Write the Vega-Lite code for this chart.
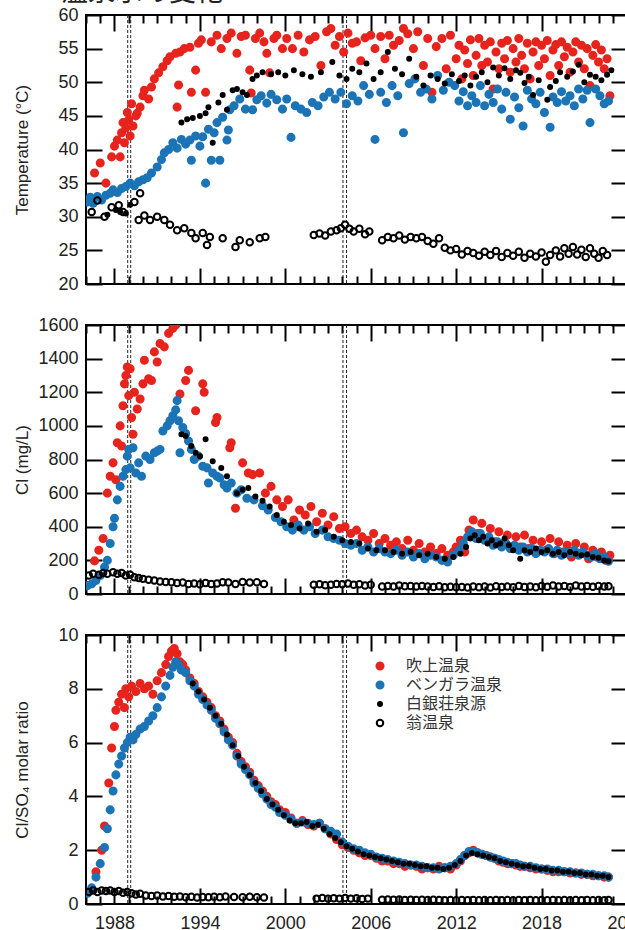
{
"$schema": "https://vega.github.io/schema/vega-lite/v6.json",
"autosize": {"type": "pad"},
"padding": {"left": 12, "top": -21, "right": 0, "bottom": 0},
"title": {"text": "<温泉水の変化>", "font": "Noto Sans CJK JP", "fontSize": 27, "fontWeight": "normal", "color": "#222", "anchor": "start", "frame": "bounds", "dx": 33, "offset": -2},
"bounds": "flush",
"spacing": 41,
"resolve": {"scale": {"fill": "independent", "stroke": "independent", "size": "independent"}},
"config": {"view": {"stroke": "black", "strokeWidth": 2}, "axis": {"grid": false, "domain": false}, "font": "Liberation Sans"},
"datasets": {
"E": [{"t": 1988.93}, {"t": 1989.14}, {"t": 2004.05}, {"t": 2004.3}],
"T": [
{"site":"吹上温泉","t":1986.6,"v":36.5},{"site":"吹上温泉","t":1987.0,"v":38.0},{"site":"吹上温泉","t":1987.4,"v":35.0},{"site":"吹上温泉","t":1987.8,"v":38.9},{"site":"吹上温泉","t":1988.0,"v":40.5},{"site":"吹上温泉","t":1988.2,"v":41.4},{"site":"吹上温泉","t":1988.4,"v":38.9},{"site":"吹上温泉","t":1988.5,"v":42.5},{"site":"吹上温泉","t":1988.6,"v":44.0},{"site":"吹上温泉","t":1988.7,"v":41.0},{"site":"吹上温泉","t":1988.8,"v":43.2},{"site":"吹上温泉","t":1988.9,"v":45.5},{"site":"吹上温泉","t":1989.0,"v":44.4},{"site":"吹上温泉","t":1989.1,"v":42.0},{"site":"吹上温泉","t":1989.2,"v":46.8},{"site":"吹上温泉","t":1989.3,"v":43.5},{"site":"吹上温泉","t":1989.5,"v":45.0},{"site":"吹上温泉","t":1989.6,"v":45.4},{"site":"吹上温泉","t":1989.8,"v":46.3},{"site":"吹上温泉","t":1990.0,"v":48.0},{"site":"吹上温泉","t":1990.1,"v":48.8},{"site":"吹上温泉","t":1990.4,"v":47.5},{"site":"吹上温泉","t":1990.6,"v":49.3},{"site":"吹上温泉","t":1990.8,"v":50.5},{"site":"吹上温泉","t":1991.1,"v":51.4},{"site":"吹上温泉","t":1991.4,"v":52.3},{"site":"吹上温泉","t":1991.7,"v":53.2},{"site":"吹上温泉","t":1991.9,"v":53.8},{"site":"吹上温泉","t":1992.3,"v":54.3},{"site":"吹上温泉","t":1992.4,"v":46.3},{"site":"吹上温泉","t":1992.5,"v":49.6},{"site":"吹上温泉","t":1992.6,"v":54.5},{"site":"吹上温泉","t":1992.9,"v":55.0},{"site":"吹上温泉","t":1993.3,"v":55.2},{"site":"吹上温泉","t":1993.4,"v":48.5},{"site":"吹上温泉","t":1993.7,"v":51.8},{"site":"吹上温泉","t":1993.9,"v":55.8},{"site":"吹上温泉","t":1994.1,"v":56.3},{"site":"吹上温泉","t":1994.4,"v":48.5},{"site":"吹上温泉","t":1994.8,"v":56.0},{"site":"吹上温泉","t":1995.2,"v":57.0},{"site":"吹上温泉","t":1995.5,"v":55.0},{"site":"吹上温泉","t":1995.9,"v":56.5},{"site":"吹上温泉","t":1996.2,"v":57.3},{"site":"吹上温泉","t":1996.6,"v":54.3},{"site":"吹上温泉","t":1996.9,"v":56.8},{"site":"吹上温泉","t":1997.2,"v":57.0},{"site":"吹上温泉","t":1997.5,"v":51.8},{"site":"吹上温泉","t":1997.6,"v":48.4},{"site":"吹上温泉","t":1997.9,"v":56.5},{"site":"吹上温泉","t":1998.2,"v":57.3},{"site":"吹上温泉","t":1998.5,"v":56.0},{"site":"吹上温泉","t":1998.7,"v":54.3},{"site":"吹上温泉","t":1998.9,"v":51.4},{"site":"吹上温泉","t":1999.2,"v":56.5},{"site":"吹上温泉","t":1999.4,"v":57.0},{"site":"吹上温泉","t":1999.8,"v":55.0},{"site":"吹上温泉","t":2000.1,"v":56.5},{"site":"吹上温泉","t":2000.5,"v":55.0},{"site":"吹上温泉","t":2000.9,"v":57.0},{"site":"吹上温泉","t":2001.3,"v":54.5},{"site":"吹上温泉","t":2001.7,"v":56.3},{"site":"吹上温泉","t":2002.1,"v":56.8},{"site":"吹上温泉","t":2002.5,"v":52.5},{"site":"吹上温泉","t":2002.9,"v":57.5},{"site":"吹上温泉","t":2003.2,"v":58.0},{"site":"吹上温泉","t":2003.5,"v":55.5},{"site":"吹上温泉","t":2003.8,"v":56.8},{"site":"吹上温泉","t":2004.1,"v":54.5},{"site":"吹上温泉","t":2004.4,"v":57.3},{"site":"吹上温泉","t":2004.7,"v":55.8},{"site":"吹上温泉","t":2005.0,"v":56.0},{"site":"吹上温泉","t":2005.3,"v":53.2},{"site":"吹上温泉","t":2005.6,"v":56.6},{"site":"吹上温泉","t":2006.0,"v":57.0},{"site":"吹上温泉","t":2006.3,"v":55.0},{"site":"吹上温泉","t":2006.7,"v":56.8},{"site":"吹上温泉","t":2007.0,"v":53.5},{"site":"吹上温泉","t":2007.3,"v":57.0},{"site":"吹上温泉","t":2007.6,"v":55.5},{"site":"吹上温泉","t":2008.0,"v":56.2},{"site":"吹上温泉","t":2008.3,"v":58.0},{"site":"吹上温泉","t":2008.6,"v":57.2},{"site":"吹上温泉","t":2009.0,"v":55.0},{"site":"吹上温泉","t":2009.3,"v":57.5},{"site":"吹上温泉","t":2009.7,"v":52.5},{"site":"吹上温泉","t":2010.0,"v":56.5},{"site":"吹上温泉","t":2010.3,"v":48.5},{"site":"吹上温泉","t":2010.6,"v":55.3},{"site":"吹上温泉","t":2011.0,"v":56.5},{"site":"吹上温泉","t":2011.3,"v":52.0},{"site":"吹上温泉","t":2011.6,"v":57.0},{"site":"吹上温泉","t":2012.0,"v":53.5},{"site":"吹上温泉","t":2012.2,"v":55.5},{"site":"吹上温泉","t":2012.4,"v":50.5},{"site":"吹上温泉","t":2012.6,"v":54.8},{"site":"吹上温泉","t":2012.8,"v":52.8},{"site":"吹上温泉","t":2013.0,"v":56.3},{"site":"吹上温泉","t":2013.2,"v":51.0},{"site":"吹上温泉","t":2013.4,"v":54.0},{"site":"吹上温泉","t":2013.6,"v":56.5},{"site":"吹上温泉","t":2013.8,"v":52.5},{"site":"吹上温泉","t":2014.0,"v":55.5},{"site":"吹上温泉","t":2014.2,"v":53.0},{"site":"吹上温泉","t":2014.4,"v":56.0},{"site":"吹上温泉","t":2014.6,"v":49.0},{"site":"吹上温泉","t":2014.8,"v":54.5},{"site":"吹上温泉","t":2015.0,"v":52.0},{"site":"吹上温泉","t":2015.2,"v":55.8},{"site":"吹上温泉","t":2015.4,"v":53.5},{"site":"吹上温泉","t":2015.6,"v":56.2},{"site":"吹上温泉","t":2015.8,"v":51.5},{"site":"吹上温泉","t":2016.0,"v":55.0},{"site":"吹上温泉","t":2016.2,"v":53.0},{"site":"吹上温泉","t":2016.4,"v":56.5},{"site":"吹上温泉","t":2016.6,"v":54.0},{"site":"吹上温泉","t":2016.8,"v":52.0},{"site":"吹上温泉","t":2017.0,"v":55.8},{"site":"吹上温泉","t":2017.2,"v":50.5},{"site":"吹上温泉","t":2017.4,"v":54.5},{"site":"吹上温泉","t":2017.6,"v":56.0},{"site":"吹上温泉","t":2017.8,"v":52.5},{"site":"吹上温泉","t":2018.0,"v":55.5},{"site":"吹上温泉","t":2018.2,"v":53.5},{"site":"吹上温泉","t":2018.4,"v":56.2},{"site":"吹上温泉","t":2018.6,"v":51.0},{"site":"吹上温泉","t":2018.8,"v":54.8},{"site":"吹上温泉","t":2019.0,"v":55.6},{"site":"吹上温泉","t":2019.2,"v":52.5},{"site":"吹上温泉","t":2019.4,"v":56.0},{"site":"吹上温泉","t":2019.6,"v":53.8},{"site":"吹上温泉","t":2019.8,"v":55.2},{"site":"吹上温泉","t":2020.0,"v":51.5},{"site":"吹上温泉","t":2020.2,"v":54.5},{"site":"吹上温泉","t":2020.4,"v":56.0},{"site":"吹上温泉","t":2020.6,"v":53.0},{"site":"吹上温泉","t":2020.8,"v":55.5},{"site":"吹上温泉","t":2021.0,"v":52.0},{"site":"吹上温泉","t":2021.2,"v":55.0},{"site":"吹上温泉","t":2021.4,"v":49.5},{"site":"吹上温泉","t":2021.6,"v":54.0},{"site":"吹上温泉","t":2021.8,"v":55.6},{"site":"吹上温泉","t":2022.0,"v":53.0},{"site":"吹上温泉","t":2022.2,"v":54.8},{"site":"吹上温泉","t":2022.4,"v":52.0},{"site":"吹上温泉","t":2022.6,"v":53.5},{"site":"吹上温泉","t":2022.8,"v":48.0},
{"site":"ベンガラ温泉","t":1986.1,"v":32.2},{"site":"ベンガラ温泉","t":1986.3,"v":32.9},{"site":"ベンガラ温泉","t":1986.5,"v":32.0},{"site":"ベンガラ温泉","t":1986.8,"v":33.0},{"site":"ベンガラ温泉","t":1987.1,"v":32.5},{"site":"ベンガラ温泉","t":1987.4,"v":33.2},{"site":"ベンガラ温泉","t":1987.7,"v":33.5},{"site":"ベンガラ温泉","t":1987.9,"v":34.0},{"site":"ベンガラ温泉","t":1988.2,"v":33.6},{"site":"ベンガラ温泉","t":1988.5,"v":34.2},{"site":"ベンガラ温泉","t":1988.8,"v":34.5},{"site":"ベンガラ温泉","t":1989.1,"v":35.0},{"site":"ベンガラ温泉","t":1989.4,"v":34.6},{"site":"ベンガラ温泉","t":1989.7,"v":35.2},{"site":"ベンガラ温泉","t":1990.0,"v":35.5},{"site":"ベンガラ温泉","t":1990.3,"v":35.8},{"site":"ベンガラ温泉","t":1990.6,"v":36.5},{"site":"ベンガラ温泉","t":1991.0,"v":37.4},{"site":"ベンガラ温泉","t":1991.3,"v":38.5},{"site":"ベンガラ温泉","t":1991.5,"v":39.5},{"site":"ベンガラ温泉","t":1991.8,"v":40.0},{"site":"ベンガラ温泉","t":1992.1,"v":41.0},{"site":"ベンガラ温泉","t":1992.4,"v":40.2},{"site":"ベンガラ温泉","t":1992.7,"v":41.5},{"site":"ベンガラ温泉","t":1993.0,"v":40.8},{"site":"ベンガラ温泉","t":1993.3,"v":41.4},{"site":"ベンガラ温泉","t":1993.4,"v":38.4},{"site":"ベンガラ温泉","t":1993.7,"v":42.0},{"site":"ベンガラ温泉","t":1994.0,"v":40.5},{"site":"ベンガラ温泉","t":1994.2,"v":41.9},{"site":"ベンガラ温泉","t":1994.4,"v":35.0},{"site":"ベンガラ温泉","t":1994.6,"v":43.0},{"site":"ベンガラ温泉","t":1994.8,"v":38.4},{"site":"ベンガラ温泉","t":1995.0,"v":42.5},{"site":"ベンガラ温泉","t":1995.2,"v":44.0},{"site":"ベンガラ温泉","t":1995.4,"v":38.4},{"site":"ベンガラ温泉","t":1995.6,"v":44.8},{"site":"ベンガラ温泉","t":1995.9,"v":41.4},{"site":"ベンガラ温泉","t":1996.0,"v":42.9},{"site":"ベンガラ温泉","t":1996.1,"v":45.9},{"site":"ベンガラ温泉","t":1996.4,"v":46.5},{"site":"ベンガラ温泉","t":1996.8,"v":47.5},{"site":"ベンガラ温泉","t":1997.2,"v":46.0},{"site":"ベンガラ温泉","t":1997.7,"v":45.9},{"site":"ベンガラ温泉","t":1998.0,"v":47.4},{"site":"ベンガラ温泉","t":1998.3,"v":48.0},{"site":"ベンガラ温泉","t":1998.7,"v":46.9},{"site":"ベンガラ温泉","t":1999.0,"v":48.2},{"site":"ベンガラ温泉","t":1999.4,"v":47.4},{"site":"ベンガラ温泉","t":1999.8,"v":46.0},{"site":"ベンガラ温泉","t":2000.1,"v":47.5},{"site":"ベンガラ温泉","t":2000.4,"v":41.8},{"site":"ベンガラ温泉","t":2000.7,"v":46.5},{"site":"ベンガラ温泉","t":2001.1,"v":46.0},{"site":"ベンガラ温泉","t":2001.5,"v":45.5},{"site":"ベンガラ温泉","t":2001.9,"v":47.0},{"site":"ベンガラ温泉","t":2002.3,"v":46.5},{"site":"ベンガラ温泉","t":2002.7,"v":47.8},{"site":"ベンガラ温泉","t":2003.1,"v":48.5},{"site":"ベンガラ温泉","t":2003.5,"v":47.5},{"site":"ベンガラ温泉","t":2003.9,"v":48.5},{"site":"ベンガラ温泉","t":2004.3,"v":46.8},{"site":"ベンガラ温泉","t":2004.7,"v":48.0},{"site":"ベンガラ温泉","t":2005.1,"v":47.2},{"site":"ベンガラ温泉","t":2005.5,"v":49.5},{"site":"ベンガラ温泉","t":2005.9,"v":48.2},{"site":"ベンガラ温泉","t":2006.3,"v":41.5},{"site":"ベンガラ温泉","t":2006.7,"v":48.5},{"site":"ベンガラ温泉","t":2007.1,"v":47.0},{"site":"ベンガラ温泉","t":2007.5,"v":49.5},{"site":"ベンガラ温泉","t":2007.9,"v":48.0},{"site":"ベンガラ温泉","t":2008.3,"v":42.5},{"site":"ベンガラ温泉","t":2008.7,"v":49.8},{"site":"ベンガラ温泉","t":2009.1,"v":50.5},{"site":"ベンガラ温泉","t":2009.5,"v":48.5},{"site":"ベンガラ温泉","t":2009.9,"v":49.0},{"site":"ベンガラ温泉","t":2010.3,"v":47.5},{"site":"ベンガラ温泉","t":2010.7,"v":51.0},{"site":"ベンガラ温泉","t":2011.1,"v":48.8},{"site":"ベンガラ温泉","t":2011.5,"v":50.0},{"site":"ベンガラ温泉","t":2011.9,"v":49.5},{"site":"ベンガラ温泉","t":2012.2,"v":47.2},{"site":"ベンガラ温泉","t":2012.5,"v":48.6},{"site":"ベンガラ温泉","t":2012.8,"v":46.5},{"site":"ベンガラ温泉","t":2013.1,"v":48.0},{"site":"ベンガラ温泉","t":2013.4,"v":47.0},{"site":"ベンガラ温泉","t":2013.7,"v":49.5},{"site":"ベンガラ温泉","t":2014.0,"v":46.5},{"site":"ベンガラ温泉","t":2014.3,"v":48.2},{"site":"ベンガラ温泉","t":2014.6,"v":47.0},{"site":"ベンガラ温泉","t":2014.9,"v":49.0},{"site":"ベンガラ温泉","t":2015.2,"v":46.0},{"site":"ベンガラ温泉","t":2015.5,"v":48.5},{"site":"ベンガラ温泉","t":2015.8,"v":44.5},{"site":"ベンガラ温泉","t":2016.1,"v":47.8},{"site":"ベンガラ温泉","t":2016.4,"v":46.2},{"site":"ベンガラ温泉","t":2016.7,"v":43.5},{"site":"ベンガラ温泉","t":2017.0,"v":48.8},{"site":"ベンガラ温泉","t":2017.3,"v":47.5},{"site":"ベンガラ温泉","t":2017.6,"v":46.8},{"site":"ベンガラ温泉","t":2017.9,"v":48.5},{"site":"ベンガラ温泉","t":2018.2,"v":45.5},{"site":"ベンガラ温泉","t":2018.6,"v":43.3},{"site":"ベンガラ温泉","t":2018.8,"v":47.8},{"site":"ベンガラ温泉","t":2019.1,"v":47.0},{"site":"ベンガラ温泉","t":2019.4,"v":48.6},{"site":"ベンガラ温泉","t":2019.7,"v":47.2},{"site":"ベンガラ温泉","t":2020.0,"v":48.0},{"site":"ベンガラ温泉","t":2020.3,"v":46.5},{"site":"ベンガラ温泉","t":2020.6,"v":49.0},{"site":"ベンガラ温泉","t":2020.9,"v":47.5},{"site":"ベンガラ温泉","t":2021.2,"v":48.8},{"site":"ベンガラ温泉","t":2021.4,"v":44.0},{"site":"ベンガラ温泉","t":2021.8,"v":49.0},{"site":"ベンガラ温泉","t":2022.1,"v":48.0},{"site":"ベンガラ温泉","t":2022.4,"v":46.8},{"site":"ベンガラ温泉","t":2022.7,"v":47.2},
{"site":"白銀荘泉源","t":1987.5,"v":30.3},{"site":"白銀荘泉源","t":1988.1,"v":31.0},{"site":"白銀荘泉源","t":1988.4,"v":30.7},{"site":"白銀荘泉源","t":1988.8,"v":30.5},{"site":"白銀荘泉源","t":1989.1,"v":31.8},{"site":"白銀荘泉源","t":1992.7,"v":44.0},{"site":"白銀荘泉源","t":1993.1,"v":44.5},{"site":"白銀荘泉源","t":1993.5,"v":44.7},{"site":"白銀荘泉源","t":1994.0,"v":45.0},{"site":"白銀荘泉源","t":1994.4,"v":45.4},{"site":"白銀荘泉源","t":1994.6,"v":46.3},{"site":"白銀荘泉源","t":1994.9,"v":41.0},{"site":"白銀荘泉源","t":1995.3,"v":47.0},{"site":"白銀荘泉源","t":1995.6,"v":48.1},{"site":"白銀荘泉源","t":1995.9,"v":45.9},{"site":"白銀荘泉源","t":1996.3,"v":48.8},{"site":"白銀荘泉源","t":1996.6,"v":49.0},{"site":"白銀荘泉源","t":1997.0,"v":48.5},{"site":"白銀荘泉源","t":1997.3,"v":48.1},{"site":"白銀荘泉源","t":1997.7,"v":50.5},{"site":"白銀荘泉源","t":1998.0,"v":51.0},{"site":"白銀荘泉源","t":1998.4,"v":51.5},{"site":"白銀荘泉源","t":1999.0,"v":51.2},{"site":"白銀荘泉源","t":1999.5,"v":51.5},{"site":"白銀荘泉源","t":2000.0,"v":51.0},{"site":"白銀荘泉源","t":2000.6,"v":51.8},{"site":"白銀荘泉源","t":2001.2,"v":51.2},{"site":"白銀荘泉源","t":2001.8,"v":50.8},{"site":"白銀荘泉源","t":2002.5,"v":51.5},{"site":"白銀荘泉源","t":2003.3,"v":53.0},{"site":"白銀荘泉源","t":2003.8,"v":51.0},{"site":"白銀荘泉源","t":2004.3,"v":50.5},{"site":"白銀荘泉源","t":2004.7,"v":52.0},{"site":"白銀荘泉源","t":2005.2,"v":51.5},{"site":"白銀荘泉源","t":2005.7,"v":52.8},{"site":"白銀荘泉源","t":2006.2,"v":50.5},{"site":"白銀荘泉源","t":2006.7,"v":51.5},{"site":"白銀荘泉源","t":2007.2,"v":54.5},{"site":"白銀荘泉源","t":2007.7,"v":52.0},{"site":"白銀荘泉源","t":2008.2,"v":51.2},{"site":"白銀荘泉源","t":2008.7,"v":53.5},{"site":"白銀荘泉源","t":2009.2,"v":50.8},{"site":"白銀荘泉源","t":2009.7,"v":49.5},{"site":"白銀荘泉源","t":2010.2,"v":51.0},{"site":"白銀荘泉源","t":2010.7,"v":50.5},{"site":"白銀荘泉源","t":2011.2,"v":49.8},{"site":"白銀荘泉源","t":2011.7,"v":51.2},{"site":"白銀荘泉源","t":2012.2,"v":50.2},{"site":"白銀荘泉源","t":2012.6,"v":51.0},{"site":"白銀荘泉源","t":2013.0,"v":49.5},{"site":"白銀荘泉源","t":2013.4,"v":50.8},{"site":"白銀荘泉源","t":2013.8,"v":51.5},{"site":"白銀荘泉源","t":2014.2,"v":50.0},{"site":"白銀荘泉源","t":2014.6,"v":52.2},{"site":"白銀荘泉源","t":2015.0,"v":51.0},{"site":"白銀荘泉源","t":2015.4,"v":52.1},{"site":"白銀荘泉源","t":2015.8,"v":50.5},{"site":"白銀荘泉源","t":2016.2,"v":51.8},{"site":"白銀荘泉源","t":2016.5,"v":51.4},{"site":"白銀荘泉源","t":2016.8,"v":49.9},{"site":"白銀荘泉源","t":2017.1,"v":50.8},{"site":"白銀荘泉源","t":2017.4,"v":48.1},{"site":"白銀荘泉源","t":2017.8,"v":50.3},{"site":"白銀荘泉源","t":2018.4,"v":47.4},{"site":"白銀荘泉源","t":2018.6,"v":49.3},{"site":"白銀荘泉源","t":2019.0,"v":50.2},{"site":"白銀荘泉源","t":2019.3,"v":51.5},{"site":"白銀荘泉源","t":2019.8,"v":50.8},{"site":"白銀荘泉源","t":2020.2,"v":51.6},{"site":"白銀荘泉源","t":2020.6,"v":52.6},{"site":"白銀荘泉源","t":2021.0,"v":50.0},{"site":"白銀荘泉源","t":2021.4,"v":51.1},{"site":"白銀荘泉源","t":2021.8,"v":50.8},{"site":"白銀荘泉源","t":2022.2,"v":50.3},{"site":"白銀荘泉源","t":2022.6,"v":51.1},{"site":"白銀荘泉源","t":2022.9,"v":51.8},
{"site":"翁温泉","t":1986.4,"v":30.7},{"site":"翁温泉","t":1986.8,"v":32.4},{"site":"翁温泉","t":1987.3,"v":30.0},{"site":"翁温泉","t":1987.8,"v":31.4},{"site":"翁温泉","t":1988.3,"v":31.7},{"site":"翁温泉","t":1988.6,"v":30.7},{"site":"翁温泉","t":1989.4,"v":32.2},{"site":"翁温泉","t":1989.8,"v":33.5},{"site":"翁温泉","t":1989.7,"v":29.5},{"site":"翁温泉","t":1990.1,"v":30.2},{"site":"翁温泉","t":1990.5,"v":29.5},{"site":"翁温泉","t":1991.0,"v":30.0},{"site":"翁温泉","t":1991.5,"v":29.5},{"site":"翁温泉","t":1991.9,"v":28.8},{"site":"翁温泉","t":1992.4,"v":28.0},{"site":"翁温泉","t":1992.9,"v":28.3},{"site":"翁温泉","t":1993.4,"v":27.6},{"site":"翁温泉","t":1993.7,"v":26.8},{"site":"翁温泉","t":1994.2,"v":27.6},{"site":"翁温泉","t":1994.5,"v":25.8},{"site":"翁温泉","t":1994.7,"v":27.0},{"site":"翁温泉","t":1995.6,"v":26.8},{"site":"翁温泉","t":1996.5,"v":25.5},{"site":"翁温泉","t":1996.8,"v":26.5},{"site":"翁温泉","t":1997.5,"v":26.2},{"site":"翁温泉","t":1998.2,"v":26.8},{"site":"翁温泉","t":1998.6,"v":27.0},{"site":"翁温泉","t":2002.0,"v":27.3},{"site":"翁温泉","t":2002.4,"v":27.5},{"site":"翁温泉","t":2002.8,"v":27.2},{"site":"翁温泉","t":2003.2,"v":27.8},{"site":"翁温泉","t":2003.6,"v":28.0},{"site":"翁温泉","t":2003.9,"v":28.3},{"site":"翁温泉","t":2004.2,"v":28.8},{"site":"翁温泉","t":2004.5,"v":28.2},{"site":"翁温泉","t":2004.8,"v":27.8},{"site":"翁温泉","t":2005.2,"v":28.2},{"site":"翁温泉","t":2005.6,"v":27.4},{"site":"翁温泉","t":2005.9,"v":27.8},{"site":"翁温泉","t":2006.8,"v":26.5},{"site":"翁温泉","t":2007.2,"v":27.0},{"site":"翁温泉","t":2007.6,"v":26.8},{"site":"翁温泉","t":2008.0,"v":27.2},{"site":"翁温泉","t":2008.4,"v":26.6},{"site":"翁温泉","t":2008.8,"v":27.0},{"site":"翁温泉","t":2009.2,"v":26.8},{"site":"翁温泉","t":2009.6,"v":27.0},{"site":"翁温泉","t":2010.0,"v":26.4},{"site":"翁温泉","t":2010.4,"v":26.0},{"site":"翁温泉","t":2010.8,"v":26.8},{"site":"翁温泉","t":2011.2,"v":25.4},{"site":"翁温泉","t":2011.6,"v":25.0},{"site":"翁温泉","t":2012.0,"v":25.2},{"site":"翁温泉","t":2012.4,"v":24.4},{"site":"翁温泉","t":2012.8,"v":24.9},{"site":"翁温泉","t":2013.2,"v":24.6},{"site":"翁温泉","t":2013.6,"v":24.2},{"site":"翁温泉","t":2014.0,"v":24.8},{"site":"翁温泉","t":2014.4,"v":24.3},{"site":"翁温泉","t":2014.8,"v":24.9},{"site":"翁温泉","t":2015.2,"v":24.0},{"site":"翁温泉","t":2015.6,"v":24.6},{"site":"翁温泉","t":2016.0,"v":24.2},{"site":"翁温泉","t":2016.4,"v":24.8},{"site":"翁温泉","t":2016.8,"v":23.9},{"site":"翁温泉","t":2017.2,"v":24.5},{"site":"翁温泉","t":2017.6,"v":24.1},{"site":"翁温泉","t":2018.0,"v":24.7},{"site":"翁温泉","t":2018.3,"v":23.3},{"site":"翁温泉","t":2018.6,"v":24.3},{"site":"翁温泉","t":2019.0,"v":25.0},{"site":"翁温泉","t":2019.3,"v":24.1},{"site":"翁温泉","t":2019.6,"v":25.3},{"site":"翁温泉","t":2019.9,"v":24.5},{"site":"翁温泉","t":2020.2,"v":25.5},{"site":"翁温泉","t":2020.5,"v":24.4},{"site":"翁温泉","t":2020.8,"v":25.1},{"site":"翁温泉","t":2021.1,"v":24.0},{"site":"翁温泉","t":2021.4,"v":25.3},{"site":"翁温泉","t":2021.7,"v":24.5},{"site":"翁温泉","t":2022.0,"v":23.9},{"site":"翁温泉","t":2022.3,"v":24.9},{"site":"翁温泉","t":2022.6,"v":24.3}
],
"C": [
{"site":"吹上温泉","t":1986.6,"v":197},{"site":"吹上温泉","t":1986.9,"v":260},{"site":"吹上温泉","t":1987.2,"v":330},{"site":"吹上温泉","t":1987.5,"v":600},{"site":"吹上温泉","t":1987.7,"v":700},{"site":"吹上温泉","t":1987.9,"v":780},{"site":"吹上温泉","t":1988.1,"v":680},{"site":"吹上温泉","t":1988.2,"v":900},{"site":"吹上温泉","t":1988.4,"v":1000},{"site":"吹上温泉","t":1988.5,"v":880},{"site":"吹上温泉","t":1988.6,"v":1120},{"site":"吹上温泉","t":1988.7,"v":1250},{"site":"吹上温泉","t":1988.8,"v":1300},{"site":"吹上温泉","t":1988.9,"v":1350},{"site":"吹上温泉","t":1989.0,"v":1180},{"site":"吹上温泉","t":1989.1,"v":1340},{"site":"吹上温泉","t":1989.2,"v":1050},{"site":"吹上温泉","t":1989.3,"v":950},{"site":"吹上温泉","t":1989.4,"v":1200},{"site":"吹上温泉","t":1989.6,"v":1100},{"site":"吹上温泉","t":1989.8,"v":1160},{"site":"吹上温泉","t":1990.0,"v":1250},{"site":"吹上温泉","t":1990.1,"v":1390},{"site":"吹上温泉","t":1990.4,"v":1280},{"site":"吹上温泉","t":1990.6,"v":1270},{"site":"吹上温泉","t":1990.8,"v":1440},{"site":"吹上温泉","t":1991.0,"v":1380},{"site":"吹上温泉","t":1991.2,"v":1490},{"site":"吹上温泉","t":1991.5,"v":1470},{"site":"吹上温泉","t":1991.8,"v":1550},{"site":"吹上温泉","t":1992.1,"v":1580},{"site":"吹上温泉","t":1992.3,"v":1600},{"site":"吹上温泉","t":1992.6,"v":1190},{"site":"吹上温泉","t":1993.0,"v":1270},{"site":"吹上温泉","t":1993.2,"v":1330},{"site":"吹上温泉","t":1993.7,"v":1090},{"site":"吹上温泉","t":1994.2,"v":1250},{"site":"吹上温泉","t":1994.3,"v":1200},{"site":"吹上温泉","t":1995.1,"v":1020},{"site":"吹上温泉","t":1995.2,"v":1050},{"site":"吹上温泉","t":1996.1,"v":870},{"site":"吹上温泉","t":1996.2,"v":900},{"site":"吹上温泉","t":1996.5,"v":510},{"site":"吹上温泉","t":1997.0,"v":780},{"site":"吹上温泉","t":1997.4,"v":720},{"site":"吹上温泉","t":1997.7,"v":710},{"site":"吹上温泉","t":1998.2,"v":720},{"site":"吹上温泉","t":1998.6,"v":600},{"site":"吹上温泉","t":1999.0,"v":640},{"site":"吹上温泉","t":1999.4,"v":560},{"site":"吹上温泉","t":1999.8,"v":520},{"site":"吹上温泉","t":2000.2,"v":560},{"site":"吹上温泉","t":2000.6,"v":440},{"site":"吹上温泉","t":2001.0,"v":500},{"site":"吹上温泉","t":2001.4,"v":470},{"site":"吹上温泉","t":2001.8,"v":520},{"site":"吹上温泉","t":2002.2,"v":430},{"site":"吹上温泉","t":2002.6,"v":480},{"site":"吹上温泉","t":2003.0,"v":410},{"site":"吹上温泉","t":2003.4,"v":460},{"site":"吹上温泉","t":2003.8,"v":390},{"site":"吹上温泉","t":2004.2,"v":400},{"site":"吹上温泉","t":2004.6,"v":360},{"site":"吹上温泉","t":2005.0,"v":380},{"site":"吹上温泉","t":2005.4,"v":340},{"site":"吹上温泉","t":2005.8,"v":320},{"site":"吹上温泉","t":2006.2,"v":360},{"site":"吹上温泉","t":2006.6,"v":300},{"site":"吹上温泉","t":2007.0,"v":330},{"site":"吹上温泉","t":2007.4,"v":290},{"site":"吹上温泉","t":2007.8,"v":310},{"site":"吹上温泉","t":2008.2,"v":270},{"site":"吹上温泉","t":2008.6,"v":320},{"site":"吹上温泉","t":2009.0,"v":260},{"site":"吹上温泉","t":2009.4,"v":300},{"site":"吹上温泉","t":2009.8,"v":250},{"site":"吹上温泉","t":2010.2,"v":280},{"site":"吹上温泉","t":2010.6,"v":240},{"site":"吹上温泉","t":2011.0,"v":270},{"site":"吹上温泉","t":2011.4,"v":230},{"site":"吹上温泉","t":2011.8,"v":250},{"site":"吹上温泉","t":2012.0,"v":280},{"site":"吹上温泉","t":2012.3,"v":320},{"site":"吹上温泉","t":2012.6,"v":250},{"site":"吹上温泉","t":2012.9,"v":380},{"site":"吹上温泉","t":2013.2,"v":440},{"site":"吹上温泉","t":2013.5,"v":360},{"site":"吹上温泉","t":2013.8,"v":420},{"site":"吹上温泉","t":2014.1,"v":330},{"site":"吹上温泉","t":2014.4,"v":390},{"site":"吹上温泉","t":2014.7,"v":310},{"site":"吹上温泉","t":2015.0,"v":370},{"site":"吹上温泉","t":2015.3,"v":300},{"site":"吹上温泉","t":2015.6,"v":350},{"site":"吹上温泉","t":2015.9,"v":280},{"site":"吹上温泉","t":2016.2,"v":340},{"site":"吹上温泉","t":2016.5,"v":280},{"site":"吹上温泉","t":2016.8,"v":350},{"site":"吹上温泉","t":2017.1,"v":270},{"site":"吹上温泉","t":2017.4,"v":320},{"site":"吹上温泉","t":2017.7,"v":250},{"site":"吹上温泉","t":2018.0,"v":310},{"site":"吹上温泉","t":2018.3,"v":260},{"site":"吹上温泉","t":2018.6,"v":330},{"site":"吹上温泉","t":2018.9,"v":240},{"site":"吹上温泉","t":2019.2,"v":310},{"site":"吹上温泉","t":2019.5,"v":250},{"site":"吹上温泉","t":2019.8,"v":290},{"site":"吹上温泉","t":2020.1,"v":220},{"site":"吹上温泉","t":2020.4,"v":300},{"site":"吹上温泉","t":2020.7,"v":240},{"site":"吹上温泉","t":2021.0,"v":280},{"site":"吹上温泉","t":2021.3,"v":210},{"site":"吹上温泉","t":2021.6,"v":260},{"site":"吹上温泉","t":2021.9,"v":220},{"site":"吹上温泉","t":2022.2,"v":250},{"site":"吹上温泉","t":2022.5,"v":200},{"site":"吹上温泉","t":2022.8,"v":230},
{"site":"ベンガラ温泉","t":1986.1,"v":50},{"site":"ベンガラ温泉","t":1986.4,"v":60},{"site":"ベンガラ温泉","t":1986.7,"v":80},{"site":"ベンガラ温泉","t":1987.0,"v":110},{"site":"ベンガラ温泉","t":1987.3,"v":160},{"site":"ベンガラ温泉","t":1987.5,"v":200},{"site":"ベンガラ温泉","t":1987.7,"v":300},{"site":"ベンガラ温泉","t":1987.9,"v":400},{"site":"ベンガラ温泉","t":1988.0,"v":450},{"site":"ベンガラ温泉","t":1988.2,"v":560},{"site":"ベンガラ温泉","t":1988.4,"v":640},{"site":"ベンガラ温泉","t":1988.6,"v":700},{"site":"ベンガラ温泉","t":1988.8,"v":740},{"site":"ベンガラ温泉","t":1988.9,"v":820},{"site":"ベンガラ温泉","t":1989.0,"v":860},{"site":"ベンガラ温泉","t":1989.1,"v":750},{"site":"ベンガラ温泉","t":1989.3,"v":870},{"site":"ベンガラ温泉","t":1989.5,"v":720},{"site":"ベンガラ温泉","t":1989.7,"v":780},{"site":"ベンガラ温泉","t":1989.9,"v":700},{"site":"ベンガラ温泉","t":1990.2,"v":820},{"site":"ベンガラ温泉","t":1990.5,"v":800},{"site":"ベンガラ温泉","t":1990.8,"v":840},{"site":"ベンガラ温泉","t":1991.0,"v":850},{"site":"ベンガラ温泉","t":1991.2,"v":860},{"site":"ベンガラ温泉","t":1991.4,"v":970},{"site":"ベンガラ温泉","t":1991.7,"v":1000},{"site":"ベンガラ温泉","t":1991.9,"v":1030},{"site":"ベンガラ温泉","t":1992.1,"v":1060},{"site":"ベンガラ温泉","t":1992.3,"v":1095},{"site":"ベンガラ温泉","t":1992.4,"v":1150},{"site":"ベンガラ温泉","t":1992.5,"v":1030},{"site":"ベンガラ温泉","t":1992.6,"v":840},{"site":"ベンガラ温泉","t":1992.8,"v":990},{"site":"ベンガラ温泉","t":1993.0,"v":955},{"site":"ベンガラ温泉","t":1993.2,"v":910},{"site":"ベンガラ温泉","t":1993.4,"v":860},{"site":"ベンガラ温泉","t":1993.6,"v":800},{"site":"ベンガラ温泉","t":1993.9,"v":820},{"site":"ベンガラ温泉","t":1994.2,"v":760},{"site":"ベンガラ温泉","t":1994.5,"v":750},{"site":"ベンガラ温泉","t":1994.6,"v":660},{"site":"ベンガラ温泉","t":1994.9,"v":720},{"site":"ベンガラ温泉","t":1995.2,"v":700},{"site":"ベンガラ温泉","t":1995.4,"v":690},{"site":"ベンガラ温泉","t":1995.7,"v":650},{"site":"ベンガラ温泉","t":1995.9,"v":630},{"site":"ベンガラ温泉","t":1996.2,"v":660},{"site":"ベンガラ温泉","t":1996.6,"v":600},{"site":"ベンガラ温泉","t":1996.9,"v":620},{"site":"ベンガラ温泉","t":1997.3,"v":570},{"site":"ベンガラ温泉","t":1997.8,"v":560},{"site":"ベンガラ温泉","t":1998.4,"v":525},{"site":"ベンガラ温泉","t":1998.8,"v":500},{"site":"ベンガラ温泉","t":1999.3,"v":455},{"site":"ベンガラ温泉","t":1999.7,"v":430},{"site":"ベンガラ温泉","t":2000.1,"v":400},{"site":"ベンガラ温泉","t":2000.5,"v":380},{"site":"ベンガラ温泉","t":2000.9,"v":410},{"site":"ベンガラ温泉","t":2001.3,"v":380},{"site":"ベンガラ温泉","t":2001.7,"v":400},{"site":"ベンガラ温泉","t":2002.1,"v":360},{"site":"ベンガラ温泉","t":2002.6,"v":380},{"site":"ベンガラ温泉","t":2003.0,"v":340},{"site":"ベンガラ温泉","t":2003.4,"v":330},{"site":"ベンガラ温泉","t":2003.8,"v":320},{"site":"ベンガラ温泉","t":2004.2,"v":300},{"site":"ベンガラ温泉","t":2004.6,"v":290},{"site":"ベンガラ温泉","t":2005.0,"v":300},{"site":"ベンガラ温泉","t":2005.4,"v":260},{"site":"ベンガラ温泉","t":2005.8,"v":280},{"site":"ベンガラ温泉","t":2006.2,"v":250},{"site":"ベンガラ温泉","t":2006.6,"v":270},{"site":"ベンガラ温泉","t":2007.0,"v":250},{"site":"ベンガラ温泉","t":2007.4,"v":240},{"site":"ベンガラ温泉","t":2007.8,"v":260},{"site":"ベンガラ温泉","t":2008.2,"v":230},{"site":"ベンガラ温泉","t":2008.6,"v":250},{"site":"ベンガラ温泉","t":2009.0,"v":220},{"site":"ベンガラ温泉","t":2009.4,"v":240},{"site":"ベンガラ温泉","t":2009.8,"v":210},{"site":"ベンガラ温泉","t":2010.2,"v":230},{"site":"ベンガラ温泉","t":2010.6,"v":220},{"site":"ベンガラ温泉","t":2011.0,"v":200},{"site":"ベンガラ温泉","t":2011.4,"v":190},{"site":"ベンガラ温泉","t":2011.8,"v":230},{"site":"ベンガラ温泉","t":2012.2,"v":260},{"site":"ベンガラ温泉","t":2012.5,"v":300},{"site":"ベンガラ温泉","t":2012.8,"v":340},{"site":"ベンガラ温泉","t":2013.1,"v":370},{"site":"ベンガラ温泉","t":2013.4,"v":330},{"site":"ベンガラ温泉","t":2013.7,"v":360},{"site":"ベンガラ温泉","t":2014.0,"v":320},{"site":"ベンガラ温泉","t":2014.3,"v":340},{"site":"ベンガラ温泉","t":2014.6,"v":290},{"site":"ベンガラ温泉","t":2014.9,"v":310},{"site":"ベンガラ温泉","t":2015.2,"v":280},{"site":"ベンガラ温泉","t":2015.5,"v":300},{"site":"ベンガラ温泉","t":2015.8,"v":270},{"site":"ベンガラ温泉","t":2016.1,"v":290},{"site":"ベンガラ温泉","t":2016.4,"v":260},{"site":"ベンガラ温泉","t":2016.7,"v":280},{"site":"ベンガラ温泉","t":2017.0,"v":250},{"site":"ベンガラ温泉","t":2017.3,"v":270},{"site":"ベンガラ温泉","t":2017.6,"v":240},{"site":"ベンガラ温泉","t":2017.9,"v":260},{"site":"ベンガラ温泉","t":2018.2,"v":250},{"site":"ベンガラ温泉","t":2018.5,"v":270},{"site":"ベンガラ温泉","t":2018.8,"v":240},{"site":"ベンガラ温泉","t":2019.1,"v":260},{"site":"ベンガラ温泉","t":2019.4,"v":230},{"site":"ベンガラ温泉","t":2019.7,"v":250},{"site":"ベンガラ温泉","t":2020.0,"v":240},{"site":"ベンガラ温泉","t":2020.3,"v":260},{"site":"ベンガラ温泉","t":2020.6,"v":230},{"site":"ベンガラ温泉","t":2020.9,"v":250},{"site":"ベンガラ温泉","t":2021.2,"v":230},{"site":"ベンガラ温泉","t":2021.5,"v":220},{"site":"ベンガラ温泉","t":2021.8,"v":240},{"site":"ベンガラ温泉","t":2022.1,"v":210},{"site":"ベンガラ温泉","t":2022.4,"v":220},{"site":"ベンガラ温泉","t":2022.7,"v":195},
{"site":"白銀荘泉源","t":1992.7,"v":950},{"site":"白銀荘泉源","t":1993.0,"v":940},{"site":"白銀荘泉源","t":1993.4,"v":880},{"site":"白銀荘泉源","t":1993.7,"v":840},{"site":"白銀荘泉源","t":1994.0,"v":820},{"site":"白銀荘泉源","t":1994.4,"v":920},{"site":"白銀荘泉源","t":1994.9,"v":790},{"site":"白銀荘泉源","t":1995.5,"v":750},{"site":"白銀荘泉源","t":1995.9,"v":700},{"site":"白銀荘泉源","t":1996.6,"v":600},{"site":"白銀荘泉源","t":1997.0,"v":620},{"site":"白銀荘泉源","t":1997.4,"v":630},{"site":"白銀荘泉源","t":1997.9,"v":580},{"site":"白銀荘泉源","t":1998.4,"v":555},{"site":"白銀荘泉源","t":1998.9,"v":520},{"site":"白銀荘泉源","t":1999.4,"v":470},{"site":"白銀荘泉源","t":1999.9,"v":430},{"site":"白銀荘泉源","t":2000.4,"v":410},{"site":"白銀荘泉源","t":2001.0,"v":390},{"site":"白銀荘泉源","t":2001.6,"v":420},{"site":"白銀荘泉源","t":2002.2,"v":370},{"site":"白銀荘泉源","t":2002.8,"v":380},{"site":"白銀荘泉源","t":2003.4,"v":340},{"site":"白銀荘泉源","t":2004.0,"v":320},{"site":"白銀荘泉源","t":2004.6,"v":310},{"site":"白銀荘泉源","t":2005.2,"v":300},{"site":"白銀荘泉源","t":2005.8,"v":270},{"site":"白銀荘泉源","t":2006.4,"v":260},{"site":"白銀荘泉源","t":2007.0,"v":260},{"site":"白銀荘泉源","t":2007.6,"v":250},{"site":"白銀荘泉源","t":2008.2,"v":240},{"site":"白銀荘泉源","t":2008.8,"v":250},{"site":"白銀荘泉源","t":2009.4,"v":230},{"site":"白銀荘泉源","t":2010.0,"v":240},{"site":"白銀荘泉源","t":2010.6,"v":220},{"site":"白銀荘泉源","t":2011.2,"v":210},{"site":"白銀荘泉源","t":2011.8,"v":220},{"site":"白銀荘泉源","t":2012.3,"v":240},{"site":"白銀荘泉源","t":2012.7,"v":280},{"site":"白銀荘泉源","t":2013.0,"v":330},{"site":"白銀荘泉源","t":2013.3,"v":350},{"site":"白銀荘泉源","t":2013.6,"v":320},{"site":"白銀荘泉源","t":2013.9,"v":340},{"site":"白銀荘泉源","t":2014.2,"v":300},{"site":"白銀荘泉源","t":2014.5,"v":320},{"site":"白銀荘泉源","t":2014.8,"v":290},{"site":"白銀荘泉源","t":2015.1,"v":300},{"site":"白銀荘泉源","t":2015.4,"v":330},{"site":"白銀荘泉源","t":2015.7,"v":290},{"site":"白銀荘泉源","t":2016.0,"v":260},{"site":"白銀荘泉源","t":2016.5,"v":210},{"site":"白銀荘泉源","t":2016.8,"v":260},{"site":"白銀荘泉源","t":2017.2,"v":250},{"site":"白銀荘泉源","t":2017.6,"v":270},{"site":"白銀荘泉源","t":2018.0,"v":250},{"site":"白銀荘泉源","t":2018.4,"v":260},{"site":"白銀荘泉源","t":2018.8,"v":240},{"site":"白銀荘泉源","t":2019.2,"v":250},{"site":"白銀荘泉源","t":2019.6,"v":230},{"site":"白銀荘泉源","t":2020.0,"v":250},{"site":"白銀荘泉源","t":2020.4,"v":240},{"site":"白銀荘泉源","t":2020.8,"v":230},{"site":"白銀荘泉源","t":2021.2,"v":235},{"site":"白銀荘泉源","t":2021.6,"v":220},{"site":"白銀荘泉源","t":2022.0,"v":215},{"site":"白銀荘泉源","t":2022.4,"v":200},{"site":"白銀荘泉源","t":2022.7,"v":195},
{"site":"翁温泉","t":1986.2,"v":110},{"site":"翁温泉","t":1986.5,"v":120},{"site":"翁温泉","t":1986.9,"v":115},{"site":"翁温泉","t":1987.2,"v":125},{"site":"翁温泉","t":1987.5,"v":120},{"site":"翁温泉","t":1987.9,"v":130},{"site":"翁温泉","t":1988.2,"v":120},{"site":"翁温泉","t":1988.5,"v":125},{"site":"翁温泉","t":1988.8,"v":110},{"site":"翁温泉","t":1989.1,"v":115},{"site":"翁温泉","t":1989.4,"v":100},{"site":"翁温泉","t":1989.7,"v":95},{"site":"翁温泉","t":1990.0,"v":90},{"site":"翁温泉","t":1990.4,"v":85},{"site":"翁温泉","t":1990.8,"v":80},{"site":"翁温泉","t":1991.2,"v":75},{"site":"翁温泉","t":1991.6,"v":72},{"site":"翁温泉","t":1992.0,"v":70},{"site":"翁温泉","t":1992.4,"v":65},{"site":"翁温泉","t":1992.8,"v":68},{"site":"翁温泉","t":1993.2,"v":60},{"site":"翁温泉","t":1993.6,"v":62},{"site":"翁温泉","t":1994.0,"v":58},{"site":"翁温泉","t":1994.4,"v":65},{"site":"翁温泉","t":1994.8,"v":60},{"site":"翁温泉","t":1995.2,"v":62},{"site":"翁温泉","t":1995.6,"v":70},{"site":"翁温泉","t":1996.0,"v":68},{"site":"翁温泉","t":1996.5,"v":60},{"site":"翁温泉","t":1997.0,"v":72},{"site":"翁温泉","t":1997.5,"v":68},{"site":"翁温泉","t":1998.0,"v":70},{"site":"翁温泉","t":1998.5,"v":60},{"site":"翁温泉","t":2002.0,"v":55},{"site":"翁温泉","t":2002.4,"v":58},{"site":"翁温泉","t":2002.8,"v":52},{"site":"翁温泉","t":2003.2,"v":55},{"site":"翁温泉","t":2003.6,"v":60},{"site":"翁温泉","t":2004.0,"v":58},{"site":"翁温泉","t":2004.4,"v":62},{"site":"翁温泉","t":2004.8,"v":55},{"site":"翁温泉","t":2005.2,"v":58},{"site":"翁温泉","t":2005.6,"v":50},{"site":"翁温泉","t":2006.0,"v":55},{"site":"翁温泉","t":2006.8,"v":45},{"site":"翁温泉","t":2007.2,"v":48},{"site":"翁温泉","t":2007.6,"v":45},{"site":"翁温泉","t":2008.0,"v":50},{"site":"翁温泉","t":2008.4,"v":46},{"site":"翁温泉","t":2008.8,"v":48},{"site":"翁温泉","t":2009.2,"v":44},{"site":"翁温泉","t":2009.6,"v":47},{"site":"翁温泉","t":2010.0,"v":45},{"site":"翁温泉","t":2010.4,"v":42},{"site":"翁温泉","t":2010.8,"v":46},{"site":"翁温泉","t":2011.2,"v":40},{"site":"翁温泉","t":2011.6,"v":43},{"site":"翁温泉","t":2012.0,"v":40},{"site":"翁温泉","t":2012.4,"v":42},{"site":"翁温泉","t":2012.8,"v":38},{"site":"翁温泉","t":2013.2,"v":45},{"site":"翁温泉","t":2013.6,"v":40},{"site":"翁温泉","t":2014.0,"v":44},{"site":"翁温泉","t":2014.4,"v":39},{"site":"翁温泉","t":2014.8,"v":46},{"site":"翁温泉","t":2015.2,"v":41},{"site":"翁温泉","t":2015.6,"v":44},{"site":"翁温泉","t":2016.0,"v":40},{"site":"翁温泉","t":2016.4,"v":47},{"site":"翁温泉","t":2016.8,"v":42},{"site":"翁温泉","t":2017.2,"v":45},{"site":"翁温泉","t":2017.6,"v":40},{"site":"翁温泉","t":2018.0,"v":48},{"site":"翁温泉","t":2018.4,"v":43},{"site":"翁温泉","t":2018.8,"v":50},{"site":"翁温泉","t":2019.2,"v":44},{"site":"翁温泉","t":2019.6,"v":48},{"site":"翁温泉","t":2020.0,"v":42},{"site":"翁温泉","t":2020.4,"v":50},{"site":"翁温泉","t":2020.8,"v":45},{"site":"翁温泉","t":2021.2,"v":48},{"site":"翁温泉","t":2021.6,"v":43},{"site":"翁温泉","t":2022.0,"v":47},{"site":"翁温泉","t":2022.4,"v":44},{"site":"翁温泉","t":2022.7,"v":46}
],
"R": [
{"site":"吹上温泉","t":1986.7,"v":1.2},{"site":"吹上温泉","t":1987.1,"v":2.0},{"site":"吹上温泉","t":1987.3,"v":2.9},{"site":"吹上温泉","t":1987.6,"v":4.5},{"site":"吹上温泉","t":1987.8,"v":5.8},{"site":"吹上温泉","t":1988.0,"v":6.6},{"site":"吹上温泉","t":1988.1,"v":7.2},{"site":"吹上温泉","t":1988.3,"v":7.5},{"site":"吹上温泉","t":1988.5,"v":7.8},{"site":"吹上温泉","t":1988.7,"v":7.3},{"site":"吹上温泉","t":1988.8,"v":8.0},{"site":"吹上温泉","t":1989.0,"v":7.7},{"site":"吹上温泉","t":1989.2,"v":8.1},{"site":"吹上温泉","t":1989.5,"v":7.9},{"site":"吹上温泉","t":1989.8,"v":8.2},{"site":"吹上温泉","t":1990.1,"v":8.0},{"site":"吹上温泉","t":1990.4,"v":8.1},{"site":"吹上温泉","t":1990.7,"v":7.8},{"site":"吹上温泉","t":1991.0,"v":8.3},{"site":"吹上温泉","t":1991.3,"v":8.6},{"site":"吹上温泉","t":1991.6,"v":8.9},{"site":"吹上温泉","t":1991.8,"v":9.2},{"site":"吹上温泉","t":1992.0,"v":9.4},{"site":"吹上温泉","t":1992.2,"v":9.5},{"site":"吹上温泉","t":1992.4,"v":9.3},{"site":"吹上温泉","t":1992.6,"v":9.0},{"site":"吹上温泉","t":1992.8,"v":8.9},{"site":"吹上温泉","t":1993.0,"v":8.7},{"site":"吹上温泉","t":1993.3,"v":8.4},{"site":"吹上温泉","t":1993.6,"v":8.2},{"site":"吹上温泉","t":1993.9,"v":7.9},{"site":"吹上温泉","t":1994.2,"v":7.7},{"site":"吹上温泉","t":1994.5,"v":7.5},{"site":"吹上温泉","t":1994.8,"v":7.3},{"site":"吹上温泉","t":1995.1,"v":7.0},{"site":"吹上温泉","t":1995.4,"v":6.8},{"site":"吹上温泉","t":1995.7,"v":6.5},{"site":"吹上温泉","t":1996.0,"v":6.2},{"site":"吹上温泉","t":1996.3,"v":6.0},{"site":"吹上温泉","t":1996.6,"v":5.6},{"site":"吹上温泉","t":1996.9,"v":5.3},{"site":"吹上温泉","t":1997.2,"v":5.1},{"site":"吹上温泉","t":1997.5,"v":4.9},{"site":"吹上温泉","t":1997.8,"v":4.6},{"site":"吹上温泉","t":1998.1,"v":4.4},{"site":"吹上温泉","t":1998.4,"v":4.2},{"site":"吹上温泉","t":1998.7,"v":4.0},{"site":"吹上温泉","t":1999.0,"v":3.8},{"site":"吹上温泉","t":1999.3,"v":3.7},{"site":"吹上温泉","t":1999.6,"v":3.5},{"site":"吹上温泉","t":2000.0,"v":3.4},{"site":"吹上温泉","t":2000.4,"v":3.2},{"site":"吹上温泉","t":2000.8,"v":3.0},{"site":"吹上温泉","t":2001.2,"v":3.1},{"site":"吹上温泉","t":2001.6,"v":2.95},{"site":"吹上温泉","t":2002.0,"v":2.9},{"site":"吹上温泉","t":2002.4,"v":3.0},{"site":"吹上温泉","t":2002.8,"v":2.8},{"site":"吹上温泉","t":2003.2,"v":2.6},{"site":"吹上温泉","t":2003.6,"v":2.4},{"site":"吹上温泉","t":2004.0,"v":2.2},{"site":"吹上温泉","t":2004.4,"v":2.1},{"site":"吹上温泉","t":2004.8,"v":2.0},{"site":"吹上温泉","t":2005.2,"v":1.9},{"site":"吹上温泉","t":2005.6,"v":1.8},{"site":"吹上温泉","t":2006.0,"v":1.8},{"site":"吹上温泉","t":2006.4,"v":1.7},{"site":"吹上温泉","t":2006.8,"v":1.6},{"site":"吹上温泉","t":2007.2,"v":1.6},{"site":"吹上温泉","t":2007.6,"v":1.5},{"site":"吹上温泉","t":2008.0,"v":1.5},{"site":"吹上温泉","t":2008.4,"v":1.4},{"site":"吹上温泉","t":2008.8,"v":1.45},{"site":"吹上温泉","t":2009.2,"v":1.4},{"site":"吹上温泉","t":2009.6,"v":1.3},{"site":"吹上温泉","t":2010.0,"v":1.35},{"site":"吹上温泉","t":2010.4,"v":1.3},{"site":"吹上温泉","t":2010.8,"v":1.4},{"site":"吹上温泉","t":2011.2,"v":1.35},{"site":"吹上温泉","t":2011.6,"v":1.3},{"site":"吹上温泉","t":2012.0,"v":1.45},{"site":"吹上温泉","t":2012.3,"v":1.6},{"site":"吹上温泉","t":2012.6,"v":1.8},{"site":"吹上温泉","t":2012.9,"v":1.9},{"site":"吹上温泉","t":2013.2,"v":2.0},{"site":"吹上温泉","t":2013.5,"v":1.9},{"site":"吹上温泉","t":2013.8,"v":1.85},{"site":"吹上温泉","t":2014.1,"v":1.8},{"site":"吹上温泉","t":2014.4,"v":1.75},{"site":"吹上温泉","t":2014.7,"v":1.7},{"site":"吹上温泉","t":2015.0,"v":1.6},{"site":"吹上温泉","t":2015.3,"v":1.55},{"site":"吹上温泉","t":2015.6,"v":1.5},{"site":"吹上温泉","t":2015.9,"v":1.5},{"site":"吹上温泉","t":2016.2,"v":1.45},{"site":"吹上温泉","t":2016.5,"v":1.4},{"site":"吹上温泉","t":2016.8,"v":1.4},{"site":"吹上温泉","t":2017.2,"v":1.35},{"site":"吹上温泉","t":2017.6,"v":1.3},{"site":"吹上温泉","t":2018.0,"v":1.3},{"site":"吹上温泉","t":2018.4,"v":1.25},{"site":"吹上温泉","t":2018.8,"v":1.2},{"site":"吹上温泉","t":2019.2,"v":1.2},{"site":"吹上温泉","t":2019.6,"v":1.2},{"site":"吹上温泉","t":2020.0,"v":1.15},{"site":"吹上温泉","t":2020.4,"v":1.15},{"site":"吹上温泉","t":2020.8,"v":1.1},{"site":"吹上温泉","t":2021.2,"v":1.1},{"site":"吹上温泉","t":2021.6,"v":1.05},{"site":"吹上温泉","t":2022.0,"v":1.05},{"site":"吹上温泉","t":2022.4,"v":1.0},{"site":"吹上温泉","t":2022.7,"v":1.0},
{"site":"ベンガラ温泉","t":1986.1,"v":0.4},{"site":"ベンガラ温泉","t":1986.4,"v":0.6},{"site":"ベンガラ温泉","t":1986.7,"v":1.0},{"site":"ベンガラ温泉","t":1987.0,"v":1.5},{"site":"ベンガラ温泉","t":1987.3,"v":2.1},{"site":"ベンガラ温泉","t":1987.5,"v":2.8},{"site":"ベンガラ温泉","t":1987.7,"v":3.5},{"site":"ベンガラ温泉","t":1987.9,"v":4.2},{"site":"ベンガラ温泉","t":1988.1,"v":4.8},{"site":"ベンガラ温泉","t":1988.3,"v":5.2},{"site":"ベンガラ温泉","t":1988.5,"v":5.5},{"site":"ベンガラ温泉","t":1988.7,"v":5.8},{"site":"ベンガラ温泉","t":1988.9,"v":6.0},{"site":"ベンガラ温泉","t":1989.1,"v":6.2},{"site":"ベンガラ温泉","t":1989.3,"v":6.1},{"site":"ベンガラ温泉","t":1989.5,"v":6.3},{"site":"ベンガラ温泉","t":1989.8,"v":6.5},{"site":"ベンガラ温泉","t":1990.1,"v":6.6},{"site":"ベンガラ温泉","t":1990.4,"v":6.8},{"site":"ベンガラ温泉","t":1990.7,"v":7.0},{"site":"ベンガラ温泉","t":1991.0,"v":7.3},{"site":"ベンガラ温泉","t":1991.3,"v":7.7},{"site":"ベンガラ温泉","t":1991.6,"v":8.1},{"site":"ベンガラ温泉","t":1991.9,"v":8.5},{"site":"ベンガラ温泉","t":1992.1,"v":8.8},{"site":"ベンガラ温泉","t":1992.3,"v":9.0},{"site":"ベンガラ温泉","t":1992.5,"v":8.9},{"site":"ベンガラ温泉","t":1992.7,"v":8.7},{"site":"ベンガラ温泉","t":1993.0,"v":8.6},{"site":"ベンガラ温泉","t":1993.3,"v":8.3},{"site":"ベンガラ温泉","t":1993.6,"v":8.1},{"site":"ベンガラ温泉","t":1993.9,"v":7.8},{"site":"ベンガラ温泉","t":1994.2,"v":7.6},{"site":"ベンガラ温泉","t":1994.5,"v":7.4},{"site":"ベンガラ温泉","t":1994.8,"v":7.2},{"site":"ベンガラ温泉","t":1995.1,"v":6.9},{"site":"ベンガラ温泉","t":1995.4,"v":6.7},{"site":"ベンガラ温泉","t":1995.7,"v":6.4},{"site":"ベンガラ温泉","t":1996.0,"v":6.1},{"site":"ベンガラ温泉","t":1996.3,"v":5.9},{"site":"ベンガラ温泉","t":1996.6,"v":5.5},{"site":"ベンガラ温泉","t":1996.9,"v":5.2},{"site":"ベンガラ温泉","t":1997.2,"v":5.0},{"site":"ベンガラ温泉","t":1997.5,"v":4.8},{"site":"ベンガラ温泉","t":1997.8,"v":4.5},{"site":"ベンガラ温泉","t":1998.1,"v":4.3},{"site":"ベンガラ温泉","t":1998.4,"v":4.1},{"site":"ベンガラ温泉","t":1998.7,"v":3.9},{"site":"ベンガラ温泉","t":1999.0,"v":3.7},{"site":"ベンガラ温泉","t":1999.3,"v":3.6},{"site":"ベンガラ温泉","t":1999.6,"v":3.4},{"site":"ベンガラ温泉","t":2000.0,"v":3.3},{"site":"ベンガラ温泉","t":2000.4,"v":3.15},{"site":"ベンガラ温泉","t":2000.8,"v":3.0},{"site":"ベンガラ温泉","t":2001.2,"v":3.05},{"site":"ベンガラ温泉","t":2001.6,"v":3.0},{"site":"ベンガラ温泉","t":2002.0,"v":2.95},{"site":"ベンガラ温泉","t":2002.4,"v":3.0},{"site":"ベンガラ温泉","t":2002.8,"v":2.8},{"site":"ベンガラ温泉","t":2003.2,"v":2.7},{"site":"ベンガラ温泉","t":2003.6,"v":2.6},{"site":"ベンガラ温泉","t":2004.0,"v":2.3},{"site":"ベンガラ温泉","t":2004.4,"v":2.15},{"site":"ベンガラ温泉","t":2004.8,"v":2.05},{"site":"ベンガラ温泉","t":2005.2,"v":2.0},{"site":"ベンガラ温泉","t":2005.6,"v":1.9},{"site":"ベンガラ温泉","t":2006.0,"v":1.85},{"site":"ベンガラ温泉","t":2006.4,"v":1.75},{"site":"ベンガラ温泉","t":2006.8,"v":1.7},{"site":"ベンガラ温泉","t":2007.2,"v":1.65},{"site":"ベンガラ温泉","t":2007.6,"v":1.6},{"site":"ベンガラ温泉","t":2008.0,"v":1.55},{"site":"ベンガラ温泉","t":2008.4,"v":1.5},{"site":"ベンガラ温泉","t":2008.8,"v":1.45},{"site":"ベンガラ温泉","t":2009.2,"v":1.45},{"site":"ベンガラ温泉","t":2009.6,"v":1.4},{"site":"ベンガラ温泉","t":2010.0,"v":1.35},{"site":"ベンガラ温泉","t":2010.4,"v":1.35},{"site":"ベンガラ温泉","t":2010.8,"v":1.3},{"site":"ベンガラ温泉","t":2011.2,"v":1.35},{"site":"ベンガラ温泉","t":2011.6,"v":1.4},{"site":"ベンガラ温泉","t":2012.0,"v":1.5},{"site":"ベンガラ温泉","t":2012.3,"v":1.65},{"site":"ベンガラ温泉","t":2012.6,"v":1.8},{"site":"ベンガラ温泉","t":2012.9,"v":1.95},{"site":"ベンガラ温泉","t":2013.2,"v":1.95},{"site":"ベンガラ温泉","t":2013.5,"v":1.9},{"site":"ベンガラ温泉","t":2013.8,"v":1.85},{"site":"ベンガラ温泉","t":2014.1,"v":1.8},{"site":"ベンガラ温泉","t":2014.4,"v":1.75},{"site":"ベンガラ温泉","t":2014.7,"v":1.7},{"site":"ベンガラ温泉","t":2015.0,"v":1.65},{"site":"ベンガラ温泉","t":2015.3,"v":1.6},{"site":"ベンガラ温泉","t":2015.6,"v":1.55},{"site":"ベンガラ温泉","t":2015.9,"v":1.5},{"site":"ベンガラ温泉","t":2016.2,"v":1.5},{"site":"ベンガラ温泉","t":2016.5,"v":1.45},{"site":"ベンガラ温泉","t":2016.8,"v":1.4},{"site":"ベンガラ温泉","t":2017.2,"v":1.4},{"site":"ベンガラ温泉","t":2017.6,"v":1.35},{"site":"ベンガラ温泉","t":2018.0,"v":1.3},{"site":"ベンガラ温泉","t":2018.4,"v":1.3},{"site":"ベンガラ温泉","t":2018.8,"v":1.25},{"site":"ベンガラ温泉","t":2019.2,"v":1.25},{"site":"ベンガラ温泉","t":2019.6,"v":1.2},{"site":"ベンガラ温泉","t":2020.0,"v":1.2},{"site":"ベンガラ温泉","t":2020.4,"v":1.15},{"site":"ベンガラ温泉","t":2020.8,"v":1.15},{"site":"ベンガラ温泉","t":2021.2,"v":1.1},{"site":"ベンガラ温泉","t":2021.6,"v":1.1},{"site":"ベンガラ温泉","t":2022.0,"v":1.05},{"site":"ベンガラ温泉","t":2022.4,"v":1.05},{"site":"ベンガラ温泉","t":2022.7,"v":1.0},
{"site":"白銀荘泉源","t":1993.5,"v":8.2},{"site":"白銀荘泉源","t":1993.9,"v":7.9},{"site":"白銀荘泉源","t":1994.3,"v":7.6},{"site":"白銀荘泉源","t":1994.7,"v":7.3},{"site":"白銀荘泉源","t":1995.1,"v":7.0},{"site":"白銀荘泉源","t":1995.5,"v":6.7},{"site":"白銀荘泉源","t":1995.9,"v":6.3},{"site":"白銀荘泉源","t":1996.3,"v":5.9},{"site":"白銀荘泉源","t":1996.7,"v":5.5},{"site":"白銀荘泉源","t":1997.1,"v":5.1},{"site":"白銀荘泉源","t":1997.5,"v":4.8},{"site":"白銀荘泉源","t":1997.9,"v":4.5},{"site":"白銀荘泉源","t":1998.3,"v":4.2},{"site":"白銀荘泉源","t":1998.7,"v":3.9},{"site":"白銀荘泉源","t":1999.1,"v":3.7},{"site":"白銀荘泉源","t":1999.5,"v":3.5},{"site":"白銀荘泉源","t":1999.9,"v":3.3},{"site":"白銀荘泉源","t":2000.3,"v":3.1},{"site":"白銀荘泉源","t":2000.7,"v":3.0},{"site":"白銀荘泉源","t":2001.1,"v":3.0},{"site":"白銀荘泉源","t":2001.5,"v":3.05},{"site":"白銀荘泉源","t":2001.9,"v":2.9},{"site":"白銀荘泉源","t":2002.3,"v":2.95},{"site":"白銀荘泉源","t":2002.7,"v":2.8},{"site":"白銀荘泉源","t":2003.1,"v":2.6},{"site":"白銀荘泉源","t":2003.5,"v":2.45},{"site":"白銀荘泉源","t":2003.9,"v":2.3},{"site":"白銀荘泉源","t":2004.3,"v":2.15},{"site":"白銀荘泉源","t":2004.7,"v":2.05},{"site":"白銀荘泉源","t":2005.1,"v":1.95},{"site":"白銀荘泉源","t":2005.5,"v":1.85},{"site":"白銀荘泉源","t":2005.9,"v":1.8},{"site":"白銀荘泉源","t":2006.3,"v":1.75},{"site":"白銀荘泉源","t":2006.7,"v":1.7},{"site":"白銀荘泉源","t":2007.1,"v":1.65},{"site":"白銀荘泉源","t":2007.5,"v":1.6},{"site":"白銀荘泉源","t":2007.9,"v":1.55},{"site":"白銀荘泉源","t":2008.3,"v":1.5},{"site":"白銀荘泉源","t":2008.7,"v":1.5},{"site":"白銀荘泉源","t":2009.1,"v":1.45},{"site":"白銀荘泉源","t":2009.5,"v":1.4},{"site":"白銀荘泉源","t":2009.9,"v":1.4},{"site":"白銀荘泉源","t":2010.3,"v":1.35},{"site":"白銀荘泉源","t":2010.7,"v":1.35},{"site":"白銀荘泉源","t":2011.1,"v":1.3},{"site":"白銀荘泉源","t":2011.5,"v":1.35},{"site":"白銀荘泉源","t":2011.9,"v":1.45},{"site":"白銀荘泉源","t":2012.3,"v":1.6},{"site":"白銀荘泉源","t":2012.7,"v":1.8},{"site":"白銀荘泉源","t":2013.1,"v":1.9},{"site":"白銀荘泉源","t":2013.5,"v":1.85},{"site":"白銀荘泉源","t":2013.9,"v":1.8},{"site":"白銀荘泉源","t":2014.3,"v":1.75},{"site":"白銀荘泉源","t":2014.7,"v":1.7},{"site":"白銀荘泉源","t":2015.1,"v":1.6},{"site":"白銀荘泉源","t":2015.5,"v":1.55},{"site":"白銀荘泉源","t":2015.9,"v":1.5},{"site":"白銀荘泉源","t":2016.3,"v":1.45},{"site":"白銀荘泉源","t":2016.7,"v":1.4},{"site":"白銀荘泉源","t":2017.1,"v":1.4},{"site":"白銀荘泉源","t":2017.5,"v":1.35},{"site":"白銀荘泉源","t":2017.9,"v":1.3},{"site":"白銀荘泉源","t":2018.3,"v":1.3},{"site":"白銀荘泉源","t":2018.7,"v":1.25},{"site":"白銀荘泉源","t":2019.1,"v":1.25},{"site":"白銀荘泉源","t":2019.5,"v":1.2},{"site":"白銀荘泉源","t":2019.9,"v":1.2},{"site":"白銀荘泉源","t":2020.3,"v":1.15},{"site":"白銀荘泉源","t":2020.7,"v":1.15},{"site":"白銀荘泉源","t":2021.1,"v":1.1},{"site":"白銀荘泉源","t":2021.5,"v":1.1},{"site":"白銀荘泉源","t":2021.9,"v":1.05},{"site":"白銀荘泉源","t":2022.3,"v":1.05},{"site":"白銀荘泉源","t":2022.7,"v":1.0},
{"site":"翁温泉","t":1986.2,"v":0.45},{"site":"翁温泉","t":1986.5,"v":0.5},{"site":"翁温泉","t":1986.8,"v":0.45},{"site":"翁温泉","t":1987.1,"v":0.5},{"site":"翁温泉","t":1987.4,"v":0.48},{"site":"翁温泉","t":1987.7,"v":0.5},{"site":"翁温泉","t":1988.0,"v":0.45},{"site":"翁温泉","t":1988.3,"v":0.48},{"site":"翁温泉","t":1988.6,"v":0.42},{"site":"翁温泉","t":1988.9,"v":0.45},{"site":"翁温泉","t":1989.2,"v":0.4},{"site":"翁温泉","t":1989.5,"v":0.35},{"site":"翁温泉","t":1989.8,"v":0.38},{"site":"翁温泉","t":1990.2,"v":0.32},{"site":"翁温泉","t":1990.6,"v":0.3},{"site":"翁温泉","t":1991.0,"v":0.32},{"site":"翁温泉","t":1991.4,"v":0.28},{"site":"翁温泉","t":1991.8,"v":0.3},{"site":"翁温泉","t":1992.2,"v":0.27},{"site":"翁温泉","t":1992.6,"v":0.28},{"site":"翁温泉","t":1993.0,"v":0.25},{"site":"翁温泉","t":1993.4,"v":0.27},{"site":"翁温泉","t":1993.8,"v":0.24},{"site":"翁温泉","t":1994.2,"v":0.26},{"site":"翁温泉","t":1994.6,"v":0.25},{"site":"翁温泉","t":1995.0,"v":0.27},{"site":"翁温泉","t":1995.4,"v":0.25},{"site":"翁温泉","t":1995.8,"v":0.28},{"site":"翁温泉","t":1996.4,"v":0.26},{"site":"翁温泉","t":1997.0,"v":0.25},{"site":"翁温泉","t":1997.5,"v":0.27},{"site":"翁温泉","t":1998.0,"v":0.25},{"site":"翁温泉","t":1998.5,"v":0.24},{"site":"翁温泉","t":2002.2,"v":0.2},{"site":"翁温泉","t":2002.6,"v":0.22},{"site":"翁温泉","t":2003.0,"v":0.2},{"site":"翁温泉","t":2003.4,"v":0.21},{"site":"翁温泉","t":2003.8,"v":0.2},{"site":"翁温泉","t":2004.2,"v":0.22},{"site":"翁温泉","t":2004.6,"v":0.2},{"site":"翁温泉","t":2005.0,"v":0.21},{"site":"翁温泉","t":2005.4,"v":0.19},{"site":"翁温泉","t":2005.8,"v":0.2},{"site":"翁温泉","t":2006.8,"v":0.16},{"site":"翁温泉","t":2007.2,"v":0.17},{"site":"翁温泉","t":2007.6,"v":0.16},{"site":"翁温泉","t":2008.0,"v":0.17},{"site":"翁温泉","t":2008.4,"v":0.15},{"site":"翁温泉","t":2008.8,"v":0.16},{"site":"翁温泉","t":2009.2,"v":0.15},{"site":"翁温泉","t":2009.6,"v":0.16},{"site":"翁温泉","t":2010.0,"v":0.15},{"site":"翁温泉","t":2010.4,"v":0.16},{"site":"翁温泉","t":2010.8,"v":0.15},{"site":"翁温泉","t":2011.2,"v":0.14},{"site":"翁温泉","t":2011.6,"v":0.15},{"site":"翁温泉","t":2012.0,"v":0.14},{"site":"翁温泉","t":2012.4,"v":0.15},{"site":"翁温泉","t":2012.8,"v":0.14},{"site":"翁温泉","t":2013.2,"v":0.15},{"site":"翁温泉","t":2013.6,"v":0.14},{"site":"翁温泉","t":2014.0,"v":0.15},{"site":"翁温泉","t":2014.4,"v":0.14},{"site":"翁温泉","t":2014.8,"v":0.15},{"site":"翁温泉","t":2015.2,"v":0.14},{"site":"翁温泉","t":2015.6,"v":0.15},{"site":"翁温泉","t":2016.0,"v":0.14},{"site":"翁温泉","t":2016.4,"v":0.15},{"site":"翁温泉","t":2016.8,"v":0.14},{"site":"翁温泉","t":2017.2,"v":0.15},{"site":"翁温泉","t":2017.6,"v":0.14},{"site":"翁温泉","t":2018.0,"v":0.15},{"site":"翁温泉","t":2018.4,"v":0.14},{"site":"翁温泉","t":2018.8,"v":0.15},{"site":"翁温泉","t":2019.2,"v":0.14},{"site":"翁温泉","t":2019.6,"v":0.15},{"site":"翁温泉","t":2020.0,"v":0.14},{"site":"翁温泉","t":2020.4,"v":0.15},{"site":"翁温泉","t":2020.8,"v":0.14},{"site":"翁温泉","t":2021.2,"v":0.15},{"site":"翁温泉","t":2021.6,"v":0.14},{"site":"翁温泉","t":2022.0,"v":0.15},{"site":"翁温泉","t":2022.4,"v":0.14},{"site":"翁温泉","t":2022.7,"v":0.15}
]
},
"vconcat": [
{
"width": 541, "height": 269,
"resolve": {"axis": {"x": "independent", "y": "independent"}},
"layer": [
{"data": {"name": "E"}, "mark": {"type": "rule", "strokeDash": [3, 2], "strokeWidth": 1, "color": "#222"},
 "encoding": {"x": {"field": "t", "type": "quantitative", "scale": {"domain": [1986, 2024], "nice": false, "zero": false},
   "axis": {"orient": "top", "values": [1986,1987,1988,1989,1990,1991,1992,1993,1994,1995,1996,1997,1998,1999,2000,2001,2002,2003,2004,2005,2006,2007,2008,2009,2010,2011,2012,2013,2014,2015,2016,2017,2018,2019,2020,2021,2022,2023,2024], "labels": false, "title": null, "tickColor": "black", "tickWidth": 2, "tickSize": {"condition": {"test": "datum.value % 6 == 2", "value": -16}, "value": -8}}}}},
{"data": {"name": "T"}, "transform": [{"filter": "datum.site != '翁温泉'"}],
 "mark": {"type": "circle", "opacity": 1, "strokeWidth": 2, "clip": true},
 "encoding": {
  "x": {"field": "t", "type": "quantitative", "axis": {"orient": "bottom", "values": [1986,1987,1988,1989,1990,1991,1992,1993,1994,1995,1996,1997,1998,1999,2000,2001,2002,2003,2004,2005,2006,2007,2008,2009,2010,2011,2012,2013,2014,2015,2016,2017,2018,2019,2020,2021,2022,2023,2024], "labels": false, "title": null, "tickColor": "black", "tickWidth": 2, "tickSize": {"condition": {"test": "datum.value % 6 == 2", "value": -16}, "value": -8}}},
  "y": {"field": "v", "type": "quantitative", "scale": {"domain": [20, 60], "nice": false, "zero": false},
   "axis": {"orient": "left", "values": [20,25,30,35,40,45,50,55,60], "format": "d", "tickSize": -16, "tickWidth": 2, "tickColor": "black", "labelFont": "Liberation Sans", "labelFontSize": 18, "labelColor": "#222", "labelPadding": 24, "labelFlush": false, "labelOverlap": false, "title": "Temperature (°C)", "titleFont": "Liberation Sans", "titleFontSize": 17, "titleFontWeight": "normal", "titleColor": "#222", "titlePadding": 26}},
  "fill": {"field": "site", "type": "nominal", "title": null, "legend": null, "scale": {"domain": ["吹上温泉","ベンガラ温泉","白銀荘泉源","翁温泉"], "range": ["#e6241d","#1b74b6","#000000","transparent"]}},
  "stroke": {"field": "site", "type": "nominal", "title": null, "legend": null, "scale": {"domain": ["吹上温泉","ベンガラ温泉","白銀荘泉源","翁温泉"], "range": ["#e6241d","#1b74b6","#000000","#000000"]}},
  "size": {"field": "site", "type": "nominal", "title": null, "legend": null, "scale": {"type": "ordinal", "domain": ["吹上温泉","ベンガラ温泉","白銀荘泉源","翁温泉"], "range": [50,50,16,42]}}
 }},
{"data": {"name": "T"}, "transform": [{"filter": "datum.site == '翁温泉'"}],
 "mark": {"type": "circle", "opacity": 1, "strokeWidth": 2, "clip": true},
 "encoding": {
  "x": {"field": "t", "type": "quantitative", "axis": null},
  "y": {"field": "v", "type": "quantitative", "axis": {"orient": "right", "values": [20,25,30,35,40,45,50,55,60], "labels": false, "title": null, "tickSize": -16, "tickWidth": 2, "tickColor": "black"}},
  "fill": {"field": "site", "type": "nominal", "title": null, "legend": null, "scale": {"domain": ["吹上温泉","ベンガラ温泉","白銀荘泉源","翁温泉"], "range": ["#e6241d","#1b74b6","#000000","transparent"]}},
  "stroke": {"field": "site", "type": "nominal", "title": null, "legend": null, "scale": {"domain": ["吹上温泉","ベンガラ温泉","白銀荘泉源","翁温泉"], "range": ["#e6241d","#1b74b6","#000000","#000000"]}},
  "size": {"field": "site", "type": "nominal", "title": null, "legend": null, "scale": {"type": "ordinal", "domain": ["吹上温泉","ベンガラ温泉","白銀荘泉源","翁温泉"], "range": [50,50,16,42]}}
 }}
]
},
{
"width": 541, "height": 269,
"resolve": {"axis": {"x": "independent", "y": "independent"}},
"layer": [
{"data": {"name": "E"}, "mark": {"type": "rule", "strokeDash": [3, 2], "strokeWidth": 1, "color": "#222"},
 "encoding": {"x": {"field": "t", "type": "quantitative", "scale": {"domain": [1986, 2024], "nice": false, "zero": false},
   "axis": {"orient": "top", "values": [1986,1987,1988,1989,1990,1991,1992,1993,1994,1995,1996,1997,1998,1999,2000,2001,2002,2003,2004,2005,2006,2007,2008,2009,2010,2011,2012,2013,2014,2015,2016,2017,2018,2019,2020,2021,2022,2023,2024], "labels": false, "title": null, "tickColor": "black", "tickWidth": 2, "tickSize": {"condition": {"test": "datum.value % 6 == 2", "value": -16}, "value": -8}}}}},
{"data": {"name": "C"}, "transform": [{"filter": "datum.site != '翁温泉'"}],
 "mark": {"type": "circle", "opacity": 1, "strokeWidth": 2, "clip": true},
 "encoding": {
  "x": {"field": "t", "type": "quantitative", "axis": {"orient": "bottom", "values": [1986,1987,1988,1989,1990,1991,1992,1993,1994,1995,1996,1997,1998,1999,2000,2001,2002,2003,2004,2005,2006,2007,2008,2009,2010,2011,2012,2013,2014,2015,2016,2017,2018,2019,2020,2021,2022,2023,2024], "labels": false, "title": null, "tickColor": "black", "tickWidth": 2, "tickSize": {"condition": {"test": "datum.value % 6 == 2", "value": -16}, "value": -8}}},
  "y": {"field": "v", "type": "quantitative", "scale": {"domain": [0, 1600], "nice": false, "zero": false},
   "axis": {"orient": "left", "values": [0,200,400,600,800,1000,1200,1400,1600], "format": "d", "tickSize": -16, "tickWidth": 2, "tickColor": "black", "labelFont": "Liberation Sans", "labelFontSize": 18, "labelColor": "#222", "labelPadding": 24, "labelFlush": false, "labelOverlap": false, "title": "Cl (mg/L)", "titleFont": "Liberation Sans", "titleFontSize": 17, "titleFontWeight": "normal", "titleColor": "#222", "titlePadding": 6}},
  "fill": {"field": "site", "type": "nominal", "title": null, "legend": null, "scale": {"domain": ["吹上温泉","ベンガラ温泉","白銀荘泉源","翁温泉"], "range": ["#e6241d","#1b74b6","#000000","transparent"]}},
  "stroke": {"field": "site", "type": "nominal", "title": null, "legend": null, "scale": {"domain": ["吹上温泉","ベンガラ温泉","白銀荘泉源","翁温泉"], "range": ["#e6241d","#1b74b6","#000000","#000000"]}},
  "size": {"field": "site", "type": "nominal", "title": null, "legend": null, "scale": {"type": "ordinal", "domain": ["吹上温泉","ベンガラ温泉","白銀荘泉源","翁温泉"], "range": [50,50,16,42]}}
 }},
{"data": {"name": "C"}, "transform": [{"filter": "datum.site == '翁温泉'"}],
 "mark": {"type": "circle", "opacity": 1, "strokeWidth": 2, "clip": true},
 "encoding": {
  "x": {"field": "t", "type": "quantitative", "axis": null},
  "y": {"field": "v", "type": "quantitative", "axis": {"orient": "right", "values": [0,200,400,600,800,1000,1200,1400,1600], "labels": false, "title": null, "tickSize": -16, "tickWidth": 2, "tickColor": "black"}},
  "fill": {"field": "site", "type": "nominal", "title": null, "legend": null, "scale": {"domain": ["吹上温泉","ベンガラ温泉","白銀荘泉源","翁温泉"], "range": ["#e6241d","#1b74b6","#000000","transparent"]}},
  "stroke": {"field": "site", "type": "nominal", "title": null, "legend": null, "scale": {"domain": ["吹上温泉","ベンガラ温泉","白銀荘泉源","翁温泉"], "range": ["#e6241d","#1b74b6","#000000","#000000"]}},
  "size": {"field": "site", "type": "nominal", "title": null, "legend": null, "scale": {"type": "ordinal", "domain": ["吹上温泉","ベンガラ温泉","白銀荘泉源","翁温泉"], "range": [50,50,16,42]}}
 }}
]
},
{
"width": 541, "height": 269,
"resolve": {"axis": {"x": "independent", "y": "independent"}},
"layer": [
{"data": {"name": "E"}, "mark": {"type": "rule", "strokeDash": [3, 2], "strokeWidth": 1, "color": "#222"},
 "encoding": {"x": {"field": "t", "type": "quantitative", "scale": {"domain": [1986, 2024], "nice": false, "zero": false},
   "axis": {"orient": "top", "values": [1986,1987,1988,1989,1990,1991,1992,1993,1994,1995,1996,1997,1998,1999,2000,2001,2002,2003,2004,2005,2006,2007,2008,2009,2010,2011,2012,2013,2014,2015,2016,2017,2018,2019,2020,2021,2022,2023,2024], "labels": false, "title": null, "tickColor": "black", "tickWidth": 2, "tickSize": {"condition": {"test": "datum.value % 6 == 2", "value": -16}, "value": -8}}}}},
{"data": {"name": "R"}, "transform": [{"filter": "datum.site != '翁温泉'"}],
 "mark": {"type": "circle", "opacity": 1, "strokeWidth": 2, "clip": true},
 "encoding": {
  "x": {"field": "t", "type": "quantitative", "axis": {"orient": "bottom", "values": [1986,1987,1988,1989,1990,1991,1992,1993,1994,1995,1996,1997,1998,1999,2000,2001,2002,2003,2004,2005,2006,2007,2008,2009,2010,2011,2012,2013,2014,2015,2016,2017,2018,2019,2020,2021,2022,2023,2024], "format": "d", "labelExpr": "datum.value % 6 == 2 ? datum.label : ''", "labelFont": "Liberation Sans", "labelFontSize": 18, "labelColor": "#222", "labelPadding": 26, "labelFlush": false, "labelOverlap": false, "title": null, "tickColor": "black", "tickWidth": 2, "tickSize": {"condition": {"test": "datum.value % 6 == 2", "value": -16}, "value": -8}}},
  "y": {"field": "v", "type": "quantitative", "scale": {"domain": [0, 10], "nice": false, "zero": false},
   "axis": {"orient": "left", "values": [0,2,4,6,8,10], "format": "d", "tickSize": -16, "tickWidth": 2, "tickColor": "black", "labelFont": "Liberation Sans", "labelFontSize": 18, "labelColor": "#222", "labelPadding": 24, "labelFlush": false, "labelOverlap": false, "title": "Cl/SO₄ molar ratio", "titleFont": "Liberation Sans", "titleFontSize": 17, "titleFontWeight": "normal", "titleColor": "#222", "titlePadding": 26}},
  "fill": {"field": "site", "type": "nominal", "title": null, "scale": {"domain": ["吹上温泉","ベンガラ温泉","白銀荘泉源","翁温泉"], "range": ["#e6241d","#1b74b6","#000000","transparent"]},
   "legend": {"orient": "none", "legendX": 286, "legendY": 23, "padding": 0, "labelFont": "Noto Sans CJK JP", "labelFontSize": 16, "labelColor": "#333", "labelOffset": 18, "rowPadding": 3, "symbolStrokeWidth": 2, "symbolType": "circle"}},
  "stroke": {"field": "site", "type": "nominal", "title": null, "scale": {"domain": ["吹上温泉","ベンガラ温泉","白銀荘泉源","翁温泉"], "range": ["#e6241d","#1b74b6","#000000","#000000"]}},
  "size": {"field": "site", "type": "nominal", "title": null, "scale": {"type": "ordinal", "domain": ["吹上温泉","ベンガラ温泉","白銀荘泉源","翁温泉"], "range": [50,50,16,42]}}
 }},
{"data": {"name": "R"}, "transform": [{"filter": "datum.site == '翁温泉'"}],
 "mark": {"type": "circle", "opacity": 1, "strokeWidth": 2, "clip": true},
 "encoding": {
  "x": {"field": "t", "type": "quantitative", "axis": null},
  "y": {"field": "v", "type": "quantitative", "axis": {"orient": "right", "values": [0,2,4,6,8,10], "labels": false, "title": null, "tickSize": -16, "tickWidth": 2, "tickColor": "black"}},
  "fill": {"field": "site", "type": "nominal", "title": null, "scale": {"domain": ["吹上温泉","ベンガラ温泉","白銀荘泉源","翁温泉"], "range": ["#e6241d","#1b74b6","#000000","transparent"]}},
  "stroke": {"field": "site", "type": "nominal", "title": null, "scale": {"domain": ["吹上温泉","ベンガラ温泉","白銀荘泉源","翁温泉"], "range": ["#e6241d","#1b74b6","#000000","#000000"]}},
  "size": {"field": "site", "type": "nominal", "title": null, "scale": {"type": "ordinal", "domain": ["吹上温泉","ベンガラ温泉","白銀荘泉源","翁温泉"], "range": [50,50,16,42]}}
 }}
]
}
]
}
